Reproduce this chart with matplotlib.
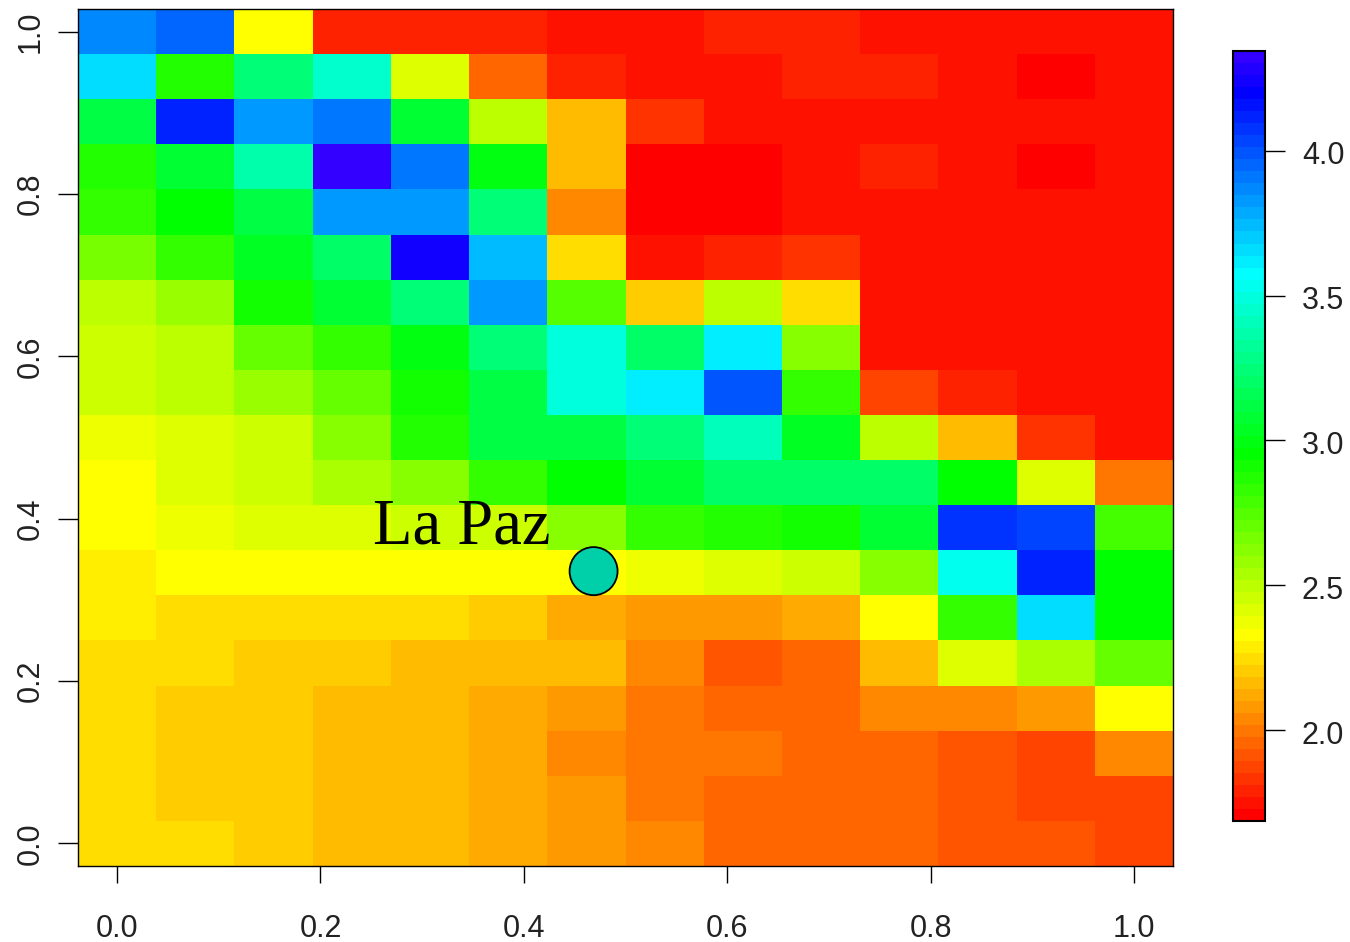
import numpy as np
import matplotlib
matplotlib.use('Agg')
import matplotlib.pyplot as plt
from matplotlib.colors import ListedColormap, hsv_to_rgb
from matplotlib.patches import Ellipse
from matplotlib.transforms import ScaledTranslation

W, H = 1350, 942

# rows go from y=1.0 (top) down to y=0.0, colours
row_00 = [3.86, 3.95, 2.33, 1.79, 1.79, 1.79, 1.75, 1.75, 1.79, 1.79, 1.75, 1.75, 1.75, 1.75]
row_01 = [3.66, 2.87, 3.24, 3.45, 2.41, 1.96, 1.79, 1.75, 1.75, 1.79, 1.79, 1.75, 1.71, 1.75]
row_02 = [3.12, 4.11, 3.82, 3.90, 3.08, 2.50, 2.16, 1.83, 1.75, 1.75, 1.75, 1.75, 1.75, 1.75]
row_03 = [2.87, 3.08, 3.37, 4.32, 3.90, 2.99, 2.16, 1.71, 1.71, 1.75, 1.79, 1.75, 1.71, 1.75]
row_04 = [2.83, 2.95, 3.12, 3.82, 3.82, 3.24, 2.04, 1.71, 1.71, 1.75, 1.75, 1.75, 1.75, 1.75]
row_05 = [2.66, 2.83, 3.03, 3.20, 4.24, 3.74, 2.25, 1.75, 1.79, 1.83, 1.75, 1.75, 1.75, 1.75]
row_06 = [2.50, 2.58, 2.91, 3.08, 3.24, 3.82, 2.74, 2.21, 2.50, 2.25, 1.75, 1.75, 1.75, 1.75]
row_07 = [2.46, 2.50, 2.70, 2.83, 2.99, 3.24, 3.49, 3.20, 3.61, 2.62, 1.75, 1.75, 1.75, 1.75]
row_08 = [2.46, 2.50, 2.58, 2.70, 2.91, 3.12, 3.49, 3.61, 3.99, 2.83, 1.87, 1.79, 1.75, 1.75]
row_09 = [2.37, 2.41, 2.46, 2.62, 2.87, 3.12, 3.12, 3.24, 3.41, 3.03, 2.50, 2.16, 1.83, 1.75]
row_10 = [2.33, 2.41, 2.46, 2.54, 2.62, 2.83, 2.95, 3.08, 3.20, 3.20, 3.20, 2.95, 2.41, 2.00]
row_11 = [2.33, 2.37, 2.41, 2.41, 2.46, 2.46, 2.62, 2.83, 2.87, 2.91, 3.08, 4.07, 4.03, 2.79]
row_12 = [2.29, 2.33, 2.33, 2.33, 2.33, 2.33, 2.33, 2.37, 2.41, 2.46, 2.62, 3.53, 4.11, 2.95]
row_13 = [2.29, 2.25, 2.25, 2.25, 2.25, 2.21, 2.12, 2.08, 2.08, 2.12, 2.33, 2.83, 3.66, 2.95]
row_14 = [2.25, 2.25, 2.21, 2.21, 2.16, 2.16, 2.16, 2.04, 1.91, 1.96, 2.16, 2.41, 2.54, 2.70]
row_15 = [2.25, 2.21, 2.21, 2.16, 2.16, 2.12, 2.08, 2.00, 1.96, 1.96, 2.04, 2.04, 2.08, 2.33]
row_16 = [2.25, 2.21, 2.21, 2.16, 2.16, 2.12, 2.04, 2.00, 2.00, 1.96, 1.96, 1.91, 1.87, 2.04]
row_17 = [2.25, 2.21, 2.21, 2.16, 2.16, 2.12, 2.08, 2.00, 1.96, 1.96, 1.96, 1.91, 1.87, 1.87]
row_18 = [2.25, 2.25, 2.21, 2.16, 2.16, 2.12, 2.08, 2.04, 1.96, 1.96, 1.96, 1.91, 1.91, 1.87]

rows = [row_00, row_01, row_02, row_03, row_04, row_05, row_06, row_07, row_08, row_09,
        row_10, row_11, row_12, row_13, row_14, row_15, row_16, row_17, row_18]

x_ticks = [0.0, 0.2, 0.4, 0.6, 0.8, 1.0]
y_ticks = [0.0, 0.2, 0.4, 0.6, 0.8, 1.0]
bar_ticks = [2.0, 2.5, 3.0, 3.5, 4.0]
vmin, vmax = 1.686, 4.345

city = "La Paz"
city_x, city_y = 0.4686, 0.3354

plt.rcParams['font.family'] = ['Liberation Sans', 'DejaVu Sans']


def box(left, top, right, bottom):
    # pixel box to figure fractions
    return [left / W, 1 - bottom / H, (right - left) / W, (bottom - top) / H]


# same as rainbow(64, end=0.7)
hues = np.arange(64) / 90
levels = np.column_stack([hues, np.ones(64), np.ones(64)])
cmap = ListedColormap(hsv_to_rgb(levels))

z = np.array(rows)[::-1]
x = np.linspace(0, 1, z.shape[1])
y = np.linspace(0, 1, z.shape[0])

fig = plt.figure(figsize=(W / 100, H / 100), dpi=100)
ax = fig.add_axes(box(78, 9, 1173, 866))
mesh = ax.pcolormesh(x, y, z, shading='nearest', cmap=cmap, vmin=vmin, vmax=vmax, linewidth=0)

ax.set_xticks(x_ticks)
ax.set_yticks(y_ticks)
ax.set_xticklabels(['%.1f' % t for t in x_ticks])
ax.set_yticklabels(['%.1f' % t for t in y_ticks], rotation=90, va='center')
ax.tick_params(axis='x', length=12, width=1, pad=22.5, labelsize=22, labelcolor='#222222')
ax.tick_params(axis='y', length=14.4, width=1, pad=9, labelsize=22, labelcolor='#222222')
for s in ax.spines.values():
    s.set_linewidth(1)

# circle on screen, so wider in data units on y than on x
ax.add_patch(Ellipse((city_x, city_y), 0.0472, 0.0592, facecolor='#00D0AA', edgecolor='black', linewidth=1.3, zorder=3))
ax.text(0.339, 0.37, city, family=['Liberation Serif', 'DejaVu Serif'], fontsize=46.5, ha='center', va='baseline', color='black', zorder=4)

cax = fig.add_axes(box(1233, 51, 1265, 821))
cb = fig.colorbar(mesh, cax=cax)
cb.set_ticks(bar_ticks)
cb.set_ticklabels(['%.1f' % t for t in bar_ticks])
cb.ax.tick_params(length=14.5, width=1, pad=12, labelsize=22, labelcolor='#222222')
cb.outline.set_linewidth(1.5)
# labels sit a little under their ticks
for lab in cb.ax.get_yticklabels():
    lab.set_transform(lab.get_transform() + ScaledTranslation(0, -2 / 100, fig.dpi_scale_trans))

fig.savefig('out.png', dpi=100)
